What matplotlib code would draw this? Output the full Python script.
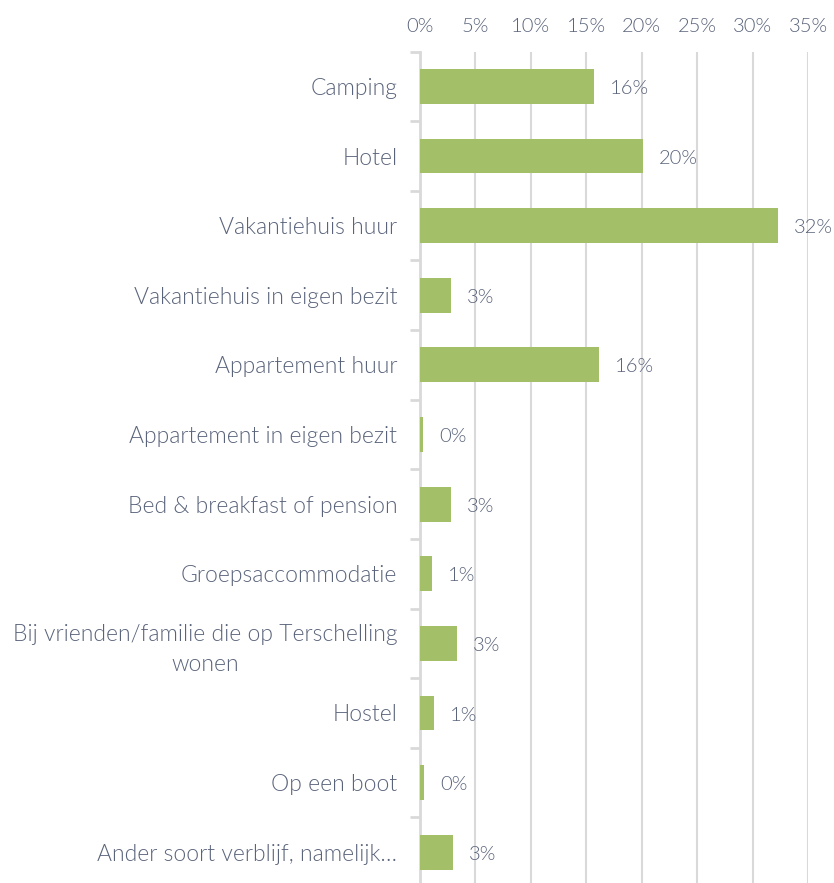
import matplotlib.pyplot as plt
from matplotlib import font_manager

# data
categories = ["Camping", "Hotel", "Vakantiehuis huur", "Vakantiehuis in eigen bezit",
              "Appartement huur", "Appartement in eigen bezit", "Bed & breakfast of pension",
              "Groepsaccommodatie", "Bij vrienden/familie die op Terschelling\nwonen",
              "Hostel", "Op een boot", "Ander soort verblijf, namelijk\u2026"]
values = [15.7, 20.1, 32.3, 2.8, 16.2, 0.3, 2.8, 1.1, 3.4, 1.3, 0.4, 3.0]
xticks = [0, 5, 10, 15, 20, 25, 30, 35]

bar_color = "#a3c069"
text_color = "#59637a"
grid_color = "#d9d9d9"

names = {f.name for f in font_manager.fontManager.ttflist}
fam = "Lato" if "Lato" in names else "DejaVu Sans"
plt.rcParams["font.family"] = [fam, "DejaVu Sans"]
plt.rcParams["font.weight"] = 300

fig = plt.figure(figsize=(8.34, 8.83), dpi=100)
ax = fig.add_axes([0.503, -0.0045, 0.466, 0.946])

y = list(range(len(categories)))
bars = ax.barh(y, values, height=0.5, color=bar_color, zorder=3)

for b, v in zip(bars, values):
    ax.annotate(f"{round(v):d}%", (b.get_width(), b.get_y() + b.get_height() / 2),
                xytext=(11.5, -1.5), textcoords="offset points", va="center", ha="left",
                fontsize=14.5, color=text_color, weight=300)

ax.set_ylim(len(categories) - 0.5, -0.5)
ax.set_xlim(0, 35)
ax.set_xticks(xticks)
ax.set_xticklabels([f"{t}%" for t in xticks])
ax.xaxis.tick_top()
ax.tick_params(axis="x", length=0, pad=12, labelsize=14.5, labelcolor=text_color)

ax.set_yticks(y)
ax.set_yticklabels(categories)
ax.tick_params(axis="y", length=0, pad=16, labelsize=16.5, labelcolor=text_color)
for lbl in ax.get_yticklabels():
    lbl.set_multialignment("center")
    lbl.set_linespacing(1.5)

# small ticks between categories
ax.set_yticks([i - 0.5 for i in range(len(categories) + 1)], minor=True)
ax.tick_params(axis="y", which="minor", length=7, width=2, color=grid_color)

ax.grid(axis="x", color=grid_color, linewidth=1.5, zorder=0)
ax.grid(axis="y", visible=False)
for s in ["top", "right", "bottom"]:
    ax.spines[s].set_visible(False)
ax.spines["left"].set_color(grid_color)
ax.spines["left"].set_linewidth(2)

fig.savefig("out.png", dpi=100)
